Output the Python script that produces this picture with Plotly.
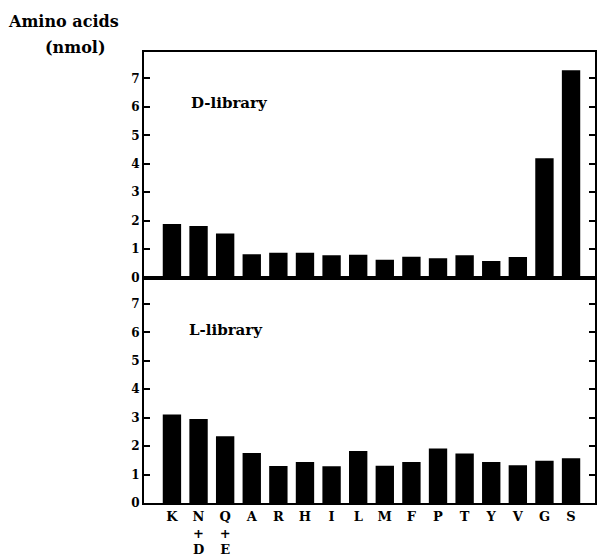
import plotly.graph_objects as go
from plotly.subplots import make_subplots

categories = ["K", "N", "Q", "A", "R", "H", "I", "L", "M", "F", "P", "T", "Y", "V", "G", "S"]
tick_labels = ["K", "N<br>+<br>D", "Q<br>+<br>E", "A", "R", "H", "I", "L", "M", "F", "P", "T", "Y", "V", "G", "S"]
d_library = [1.88, 1.81, 1.55, 0.82, 0.87, 0.87, 0.78, 0.80, 0.62, 0.73, 0.68, 0.78, 0.58, 0.72, 4.19, 7.29]
l_library = [3.11, 2.95, 2.35, 1.76, 1.30, 1.44, 1.29, 1.83, 1.31, 1.44, 1.92, 1.74, 1.44, 1.33, 1.49, 1.57]
y_ticks = [0, 1, 2, 3, 4, 5, 6, 7]

FONT = "DejaVu Serif"

fig = make_subplots(rows=2, cols=1, shared_xaxes=True, vertical_spacing=0)

x_idx = list(range(len(categories)))
fig.add_trace(go.Bar(x=x_idx, y=d_library, marker=dict(color="black", line=dict(width=0)),
                     showlegend=False), row=1, col=1)
fig.add_trace(go.Bar(x=x_idx, y=l_library, marker=dict(color="black", line=dict(width=0)),
                     showlegend=False), row=2, col=1)

axis_common = dict(showgrid=False, zeroline=False, showline=True, linecolor="black",
                   linewidth=2, mirror=True)

fig.update_xaxes(range=[-1.05, 15.9], ticks="", **axis_common)
fig.update_xaxes(showticklabels=False, row=1, col=1)
fig.update_xaxes(tickmode="array", tickvals=x_idx, ticktext=tick_labels,
                 tickfont=dict(family=FONT, size=13, color="black", weight="bold"),
                 tickangle=0, row=2, col=1)

yax = dict(range=[0, 7.93], tickmode="array", tickvals=y_ticks, ticks="inside", ticklen=6,
           tickwidth=2, tickcolor="black",
           tickfont=dict(family=FONT, size=12, color="black", weight="bold"))
fig.update_yaxes(**axis_common, **yax)
fig.update_yaxes(mirror="ticks")

fig.update_layout(
    width=600, height=560,
    margin=dict(l=144, r=3, t=52, b=57),
    paper_bgcolor="white", plot_bgcolor="white",
    bargap=0.31,
    font=dict(family=FONT, color="black"),
    annotations=[
        dict(text="<b>Amino acids</b>", xref="paper", yref="paper", x=-0.305, y=1.068,
             xanchor="left", yanchor="middle", showarrow=False,
             font=dict(family=FONT, size=16, color="black")),
        dict(text="<b>(nmol)</b>", xref="paper", yref="paper", x=-0.152, y=1.01,
             xanchor="center", yanchor="middle", showarrow=False,
             font=dict(family=FONT, size=16, color="black")),
        dict(text="<b>D-library</b>", xref="paper", yref="paper",
             x=0.1, y=0.887, xanchor="left", yanchor="middle", showarrow=False,
             font=dict(family=FONT, size=15, color="black")),
        dict(text="<b>L-library</b>", xref="paper", yref="paper",
             x=0.095, y=0.384, xanchor="left", yanchor="middle", showarrow=False,
             font=dict(family=FONT, size=15, color="black")),
    ],
)

fig.write_html("out.html")
